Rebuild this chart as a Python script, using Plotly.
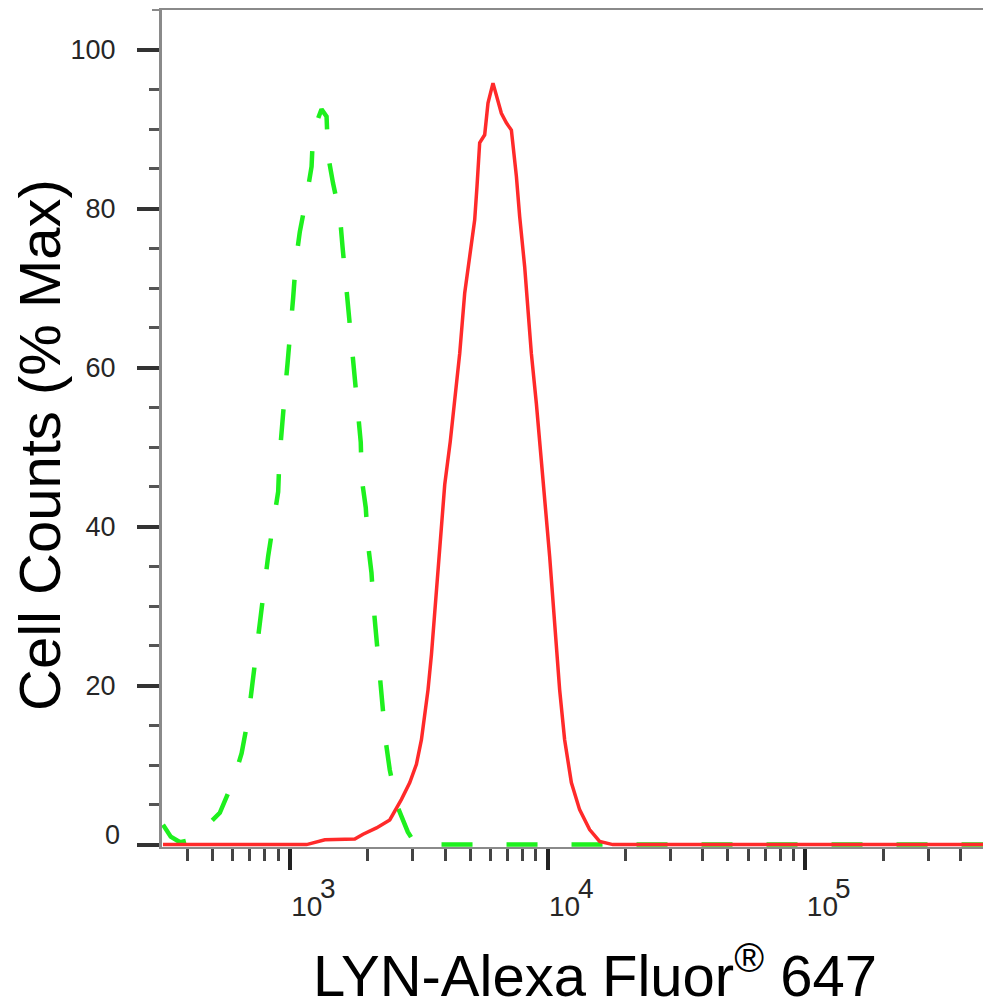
import math
import plotly.graph_objects as go

# Isotype control (green dashed) – fluorescence intensity vs % max
ctrl_x = [322, 345, 375, 410, 448, 535, 603, 650, 689, 711, 738, 760, 795, 824, 869,
          901, 911, 937, 956, 980, 1009, 1030, 1055, 1093, 1161, 1214, 1231, 1327, 1388, 1407,
          1471, 1563, 1601, 1649, 1683, 1734, 1786, 1839, 1884, 1901, 1970, 2012, 2073, 2117, 2168,
          2219, 2267, 2355, 2441, 2622, 2868, 3051, 3190, 5000, 10000, 30000, 100000, 300000, 530000]
ctrl_y = [2.5, 1.0, 0.3, 0.6, 1.5, 4.0, 8.0, 11.5, 15.9, 19.7, 24.3, 27.9, 32.3, 36.3, 40.7,
          44.4, 48.6, 52.6, 56.8, 60.6, 65.0, 68.8, 73.4, 77.1, 81.5, 85.3, 89.7, 92.5, 91.6, 86.7,
          83.2, 79.2, 75.2, 70.9, 66.9, 62.7, 58.7, 54.5, 50.6, 46.0, 42.4, 37.7, 34.2, 29.6, 25.8,
          21.1, 17.6, 13.0, 9.4, 4.7, 1.6, 0.2, 0, 0, 0, 0, 0, 0, 0]

# LYN stained sample (red solid)
lyn_x = [322, 1161, 1367, 1786, 1923, 2168, 2441, 2710, 2919, 3097, 3239, 3336, 3436, 3542, 3648,
         3757, 3873, 3989, 4190, 4560, 4768, 4985, 5213, 5321, 5450, 5700, 5870, 6138, 6615, 6917,
         7234, 7564, 7791, 8146, 8388, 8647, 9042, 9454, 9676, 10180, 10645, 11132, 11640, 12360,
         13305, 14550, 15910, 17910, 530000]
lyn_y = [0, 0, 0.6, 0.7, 1.3, 2.1, 3.1, 5.7, 7.8, 10.1, 13.2, 16.1, 19.5, 23.9, 29.1,
         34.2, 39.6, 45.3, 50.7, 61.8, 69.4, 74.4, 78.6, 82.8, 88.3, 89.3, 93.3, 95.8, 92.0, 90.8,
         89.9, 84.1, 79.0, 72.7, 66.9, 61.8, 55.5, 48.4, 44.7, 36.3, 27.9, 19.5, 13.2, 7.8,
         4.4, 1.9, 0.4, 0, 0]

x_major = [1000, 10000, 100000]
x_major_base = ["10", "10", "10"]
x_exponents = ["3", "4", "5"]
x_minor = [400, 500, 600, 700, 800, 900,
           2000, 3000, 4000, 5000, 6000, 7000, 8000, 9000,
           20000, 30000, 40000, 50000, 60000, 70000, 80000, 90000,
           200000, 300000, 400000, 500000]
y_major = [0, 20, 40, 60, 80, 100]
y_major_text = ["", "20", "40", "60", "80", "100"]   # "0" is drawn raised, see annotation
y_minor = [5, 10, 15, 25, 30, 35, 45, 50, 55, 65, 70, 75, 85, 90, 95]

ytick_font = dict(family="Liberation Sans, Arial, sans-serif", size=27, color="#262626")
xtick_font = dict(family="Liberation Sans, Arial, sans-serif", size=28, color="#262626")
title_font = dict(family="Liberation Sans, Arial, sans-serif", size=58, color="#000000")

fig = go.Figure()
fig.add_trace(go.Scatter(x=ctrl_x, y=ctrl_y, mode="lines",
                         line=dict(color="#1ef01e", width=4.5, dash="31px,34px"),
                         showlegend=False, hoverinfo="skip"))
fig.add_trace(go.Scatter(x=lyn_x, y=lyn_y, mode="lines",
                         line=dict(color="#ff2a2a", width=3.5),
                         showlegend=False, hoverinfo="skip"))

annotations = [
    dict(text="0", xref="paper", yref="y", x=-40/829, y=y_major[0],
         xanchor="right", yanchor="middle", yshift=10, showarrow=False, font=ytick_font),
    dict(text="Cell Counts (% Max)", xref="paper", yref="paper",
         x=-0.147, y=0.4805, xanchor="center", yanchor="middle",
         textangle=-90, showarrow=False, font=title_font),
    dict(text="LYN-Alexa Fluor<sup>®</sup> 647", xref="paper", yref="paper",
         x=0.522, y=-0.149, xanchor="center", yanchor="middle",
         showarrow=False, font=title_font),
]
# full-size raised exponents of the decade labels
for xv, e in zip(x_major, x_exponents):
    annotations.append(dict(text=e, xref="x", yref="paper", x=math.log10(xv), y=-0.0491,
                            xanchor="center", yanchor="middle", xshift=38,
                            showarrow=False, font=xtick_font))

# the page body has an 8px default margin, so the figure is sized/offset to compensate
fig.update_layout(
    width=983, height=994,
    margin=dict(l=154, r=0, t=2, b=155, autoexpand=False),
    paper_bgcolor="white", plot_bgcolor="white",
    xaxis=dict(type="log", range=[2.504, 5.72], showgrid=False, zeroline=False,
               showline=True, linecolor="#8a8a8a", linewidth=2, mirror=True,
               tickmode="array", tickvals=x_major, ticktext=x_major_base,
               ticks="outside", ticklen=21, tickwidth=4, tickcolor="#222",
               tickfont=xtick_font, ticklabelshift=17, ticklabelstandoff=12,
               minor=dict(tickvals=x_minor, ticks="outside", ticklen=12, tickwidth=2.5, tickcolor="#444")),
    yaxis=dict(range=[-0.3, 105.0], showgrid=False, zeroline=False,
               showline=True, linecolor="#8a8a8a", linewidth=3,
               tickmode="array", tickvals=y_major, ticktext=y_major_text,
               ticks="outside", ticklen=22, tickwidth=4, tickcolor="#333",
               tickfont=ytick_font, ticklabelstandoff=16,
               minor=dict(tickvals=y_minor, ticks="outside", ticklen=10, tickwidth=2.5, tickcolor="#555")),
    annotations=annotations,
    shapes=[
        dict(type="line", xref="paper", yref="paper", x0=-154/829, x1=-12/829, y0=1.0036, y1=1.0036,
             line=dict(color="#c8c8c8", width=1, dash="dot")),
        dict(type="line", xref="paper", yref="paper", x0=-10/829, x1=0, y0=1, y1=1,
             line=dict(color="#8a8a8a", width=2)),
    ],
)

fig.write_html("out.html")
